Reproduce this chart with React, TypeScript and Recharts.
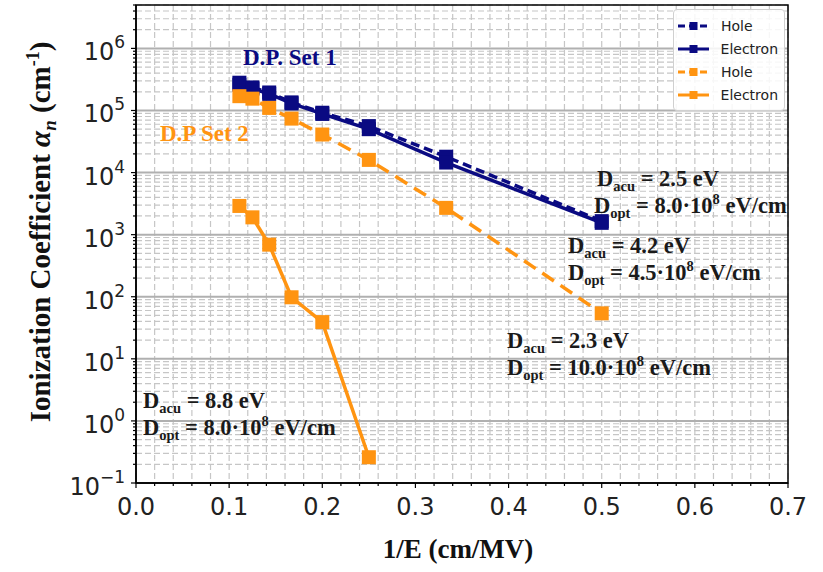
import { CartesianGrid, Legend, Line, LineChart, ReferenceArea, XAxis, YAxis } from "recharts";

// 1/E positions (cm/MV) for E = 9, 8, 7, 6, 5, 4, 3, 2 MV/cm
const invE = [0.111, 0.125, 0.143, 0.167, 0.2, 0.25, 0.333, 0.5];

// D.P. Set 1
const set1Hole = [2.8e5, 2.35e5, 1.95e5, 1.35e5, 9.2e4, 5.6e4, 1.8e4, 1.65e3];
const set1Electron = [2.6e5, 2.25e5, 1.85e5, 1.3e5, 8.8e4, 5.0e4, 1.45e4, 1.55e3];

// D.P Set 2
const set2Hole = [1.7e5, 1.55e5, 1.1e5, 7.4e4, 4.1e4, 1.6e4, 2.7e3, 54];
const set2Electron = [2.9e3, 1.9e3, 690, 98, 39, 0.26];

const xTicks = Array.from({ length: 36 }, (_, i) => +(i * 0.02).toFixed(2));
const decades = [-1, 0, 1, 2, 3, 4, 5, 6];
const majorY = decades.map((d) => Math.pow(10, d));
const minorY = decades.flatMap((d) => [2, 3, 4, 5, 6, 7, 8, 9].map((m) => m * Math.pow(10, d))).filter((v) => v <= 5e6);
const yTicks = [...majorY, ...minorY].sort((a, b) => a - b);

const BLUE = "#0a0a82";
const ORANGE = "#ff9411";
const TICK_FONT = "'DejaVu Sans', sans-serif";
const SERIF = "'Liberation Serif', 'Times New Roman', serif";

const toPoints = (ys: number[]) => ys.map((y, i) => ({ x: invE[i], y }));

const series = [
  { name: "Hole", color: BLUE, dash: "9 5", data: toPoints(set1Hole) },
  { name: "Electron", color: BLUE, dash: undefined, data: toPoints(set1Electron) },
  { name: "Hole", color: ORANGE, dash: "14 8", data: toPoints(set2Hole) },
  { name: "Electron", color: ORANGE, dash: undefined, data: toPoints(set2Electron) },
];

const isMajorLog = (v: number) => Math.abs(Math.log10(v) - Math.round(Math.log10(v))) < 1e-9;

function YTick({ x, y, payload }: any) {
  const v = payload.value;
  const major = isMajorLog(v);
  const exp = Math.round(Math.log10(v));
  return (
    <g>
      <line x1={x} x2={x - (major ? 5 : 3)} y1={y} y2={y} stroke="#000" strokeWidth={1.2} />
      {major && (
        <text x={x - 11} y={y + 12} textAnchor="end" fontFamily={TICK_FONT} fontSize={24} fill="#222">
          10
          <tspan dy={-12} fontSize={17}>{exp < 0 ? "\u2212" + Math.abs(exp) : exp}</tspan>
        </text>
      )}
    </g>
  );
}

function XTick({ x, y, payload }: any) {
  const v = payload.value;
  const major = Math.abs(v * 10 - Math.round(v * 10)) < 1e-6;
  return (
    <g>
      <line x1={x} x2={x} y1={y} y2={y + (major ? 5 : 3)} stroke="#000" strokeWidth={1.2} />
      {major && (
        <text x={x} y={y + 32} textAnchor="middle" fontFamily={TICK_FONT} fontSize={24} fill="#222">
          {v.toFixed(1)}
        </text>
      )}
    </g>
  );
}

function squareDot(color: string) {
  return (p: any) => (
    <rect key={p.index} x={p.cx - 7} y={p.cy - 7} width={14} height={14} fill={color} />
  );
}

function LegendBox() {
  return (
    <div
      style={{
        border: "1px solid #d0d0d0",
        borderRadius: 4,
        background: "rgba(255,255,255,0.85)",
        padding: "4px 6px 4px 4px",
        fontFamily: TICK_FONT,
        fontSize: 14,
        color: "#222",
      }}
    >
      {series.map((s, i) => (
        <div key={i} style={{ display: "flex", alignItems: "center", height: 23 }}>
          <svg width={31} height={12} style={{ marginRight: 12 }}>
            <line x1={0} x2={31} y1={6} y2={6} stroke={s.color} strokeWidth={3} strokeDasharray={s.dash ? "7 4" : undefined} />
            <rect x={11.5} y={2} width={8} height={8} fill={s.color} />
          </svg>
          <span>{s.name}</span>
        </div>
      ))}
    </div>
  );
}

function Annot({ x, y, sub, val }: { x: number; y: number; sub: string; val: string }) {
  return (
    <text x={x} y={y} fontFamily={SERIF} fontWeight="bold" fontSize={22.5} fill="#1a1a1a">
      D<tspan fontSize={14.5} dy={5}>{sub}</tspan>
      <tspan dy={-5}>{" = " + val}</tspan>
    </text>
  );
}

function AnnotOpt({ x, y, mant }: { x: number; y: number; mant: string }) {
  return (
    <text x={x} y={y} fontFamily={SERIF} fontWeight="bold" fontSize={22.5} fill="#1a1a1a">
      D<tspan fontSize={14.5} dy={5}>opt</tspan>
      <tspan dy={-5}>{" = " + mant + "\u00b710"}</tspan>
      <tspan fontSize={14.5} dy={-9}>8</tspan>
      <tspan dy={9}> eV/cm</tspan>
    </text>
  );
}

export default function App() {
  return (
    <div style={{ position: "absolute", left: 0, top: 0, width: 823, height: 572, background: "#fff" }}>
      <LineChart width={823} height={572} margin={{ top: 5, right: 35, bottom: 0, left: 0 }}>
        <CartesianGrid vertical={false} horizontalValues={minorY} stroke="#c6c6c6" strokeWidth={1.2} strokeDasharray="6 3" />
        <CartesianGrid horizontal={false} verticalValues={xTicks} stroke="#c6c6c6" strokeWidth={1.2} strokeDasharray="6 3" />
        <CartesianGrid vertical={false} horizontalValues={majorY} stroke="#b0b0b0" strokeWidth={2} />
        <XAxis
          type="number"
          dataKey="x"
          domain={[0, 0.7]}
          ticks={xTicks}
          interval={0}
          allowDataOverflow
          height={89}
          tickSize={0}
          tickMargin={0}
          tickLine={false}
          tick={<XTick />}
          axisLine={{ stroke: "#000", strokeWidth: 1.5 }}
        />
        <YAxis
          type="number"
          scale="log"
          domain={[0.1, 5e6]}
          ticks={yTicks}
          interval={0}
          allowDataOverflow
          width={136}
          tickSize={0}
          tickMargin={0}
          tickLine={false}
          tick={<YTick />}
          axisLine={{ stroke: "#000", strokeWidth: 1.5 }}
        />
        {series.map((s, i) => (
          <Line
            key={i}
            data={s.data}
            dataKey="y"
            name={s.name}
            stroke={s.color}
            strokeWidth={3.5}
            strokeDasharray={s.dash}
            dot={squareDot(s.color)}
            activeDot={false}
            isAnimationActive={false}
          />
        ))}
        <ReferenceArea x1={0} x2={0.7} y1={0.1} y2={5e6} fill="none" stroke="#000" strokeWidth={1.5} ifOverflow="visible" />
        <Legend
          layout="vertical"
          align="center"
          verticalAlign="middle"
          content={() => <LegendBox />}
          wrapperStyle={{ position: "absolute", top: 9, left: 673, width: 112 }}
        />
      </LineChart>
      <svg width={823} height={572} style={{ position: "absolute", left: 0, top: 0, pointerEvents: "none" }}>
        <text
          transform="translate(50,232) rotate(-90)"
          textAnchor="middle"
          fontFamily={SERIF}
          fontWeight="bold"
          fontSize={29}
          fill="#111"
        >
          Ionization Coefficient <tspan fontStyle="italic">α</tspan>
          <tspan fontStyle="italic" fontSize={19} dy={6}>n</tspan>
          <tspan dy={-6}> (cm</tspan>
          <tspan fontSize={18} dy={-11}>-1</tspan>
          <tspan dy={11}>)</tspan>
        </text>
        <text x={458} y={558} textAnchor="middle" fontFamily={SERIF} fontWeight="bold" fontSize={27} fill="#111">
          1/E (cm/MV)
        </text>
        <text x={243} y={65} fontFamily={SERIF} fontWeight="bold" fontSize={23} fill={BLUE}>
          D.P. Set 1
        </text>
        <text x={160} y={141} fontFamily={SERIF} fontWeight="bold" fontSize={23} fill={ORANGE}>
          D.P Set 2
        </text>
        <Annot x={597} y={186} sub="acu" val="2.5 eV" />
        <AnnotOpt x={594} y={213} mant="8.0" />
        <Annot x={568} y={253} sub="acu" val="4.2 eV" />
        <AnnotOpt x={568} y={280} mant="4.5" />
        <Annot x={507} y={348} sub="acu" val="2.3 eV" />
        <AnnotOpt x={507} y={375} mant="10.0" />
        <Annot x={143} y={408} sub="acu" val="8.8 eV" />
        <AnnotOpt x={143} y={435} mant="8.0" />
      </svg>
    </div>
  );
}
